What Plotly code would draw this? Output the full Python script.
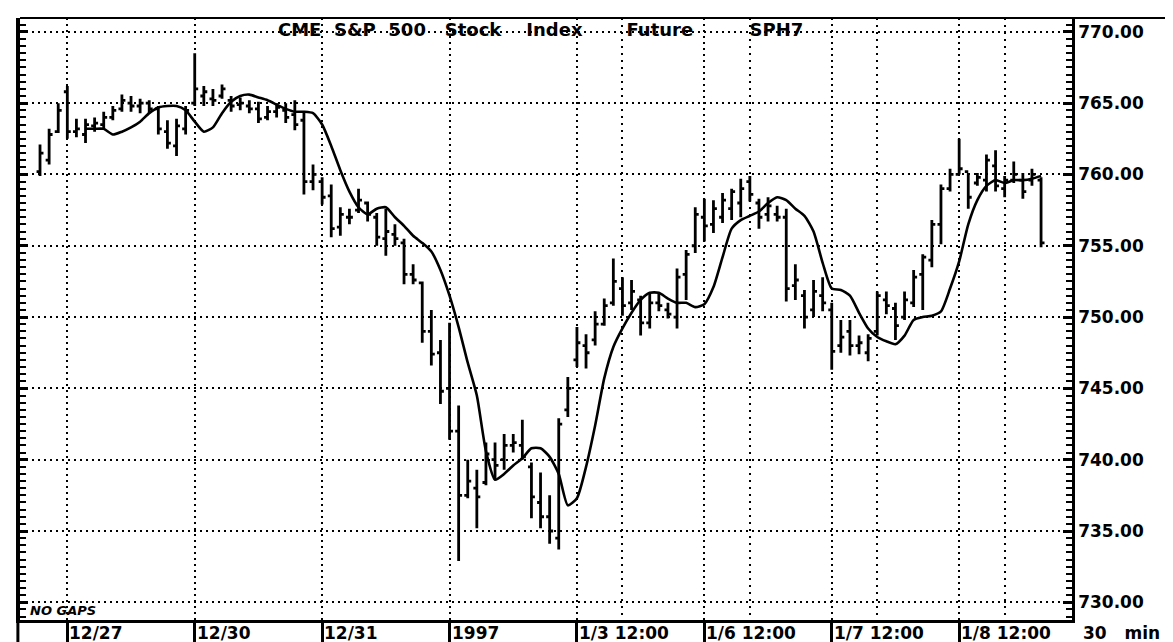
import plotly.graph_objects as go

# ---------------- data ----------------
bar_high = [762.1, 763.2, 765.0, 766.2, 763.9, 763.9, 764.0, 764.4, 764.8, 765.6,
            765.5, 765.3, 765.2, 764.8, 763.8, 763.9, 764.8, 768.5, 766.2, 766.0,
            766.3, 765.5, 765.4, 765.2, 765.1, 764.8, 765.0, 765.0, 765.2, 764.4,
            760.7, 759.8, 759.3, 757.7, 757.6, 759.0, 758.1, 757.3, 757.6, 756.5,
            755.5, 753.7, 752.5, 750.5, 748.4, 749.6, 743.8, 740.0, 739.3, 741.2,
            741.2, 741.8, 741.8, 742.8, 739.8, 739.1, 737.5, 742.9, 745.8, 749.3,
            748.8, 750.4, 751.3, 754.1, 752.8, 752.6, 751.5, 751.7, 751.7, 751.0,
            753.4, 754.7, 757.7, 758.3, 758.2, 758.7, 759.0, 759.7, 759.9, 758.3,
            758.4, 757.8, 757.6, 753.7, 751.9, 752.6, 752.8, 751.0, 749.8, 749.8,
            748.7, 748.8, 751.8, 751.8, 751.0, 751.8, 753.3, 754.4, 756.8, 759.3,
            760.4, 762.5, 760.1, 760.1, 761.4, 761.7, 759.9, 760.9, 760.1, 760.4,
            759.8]
bar_low = [759.9, 760.7, 762.9, 762.5, 762.6, 762.2, 763.0, 763.2, 763.8, 764.4,
           764.4, 764.3, 764.3, 762.8, 761.8, 761.3, 762.8, 764.8, 764.8, 764.8,
           765.3, 764.4, 764.5, 764.3, 763.6, 763.8, 764.0, 763.6, 763.1, 758.6,
           758.9, 757.9, 755.6, 755.7, 756.5, 757.3, 756.7, 755.0, 754.3, 755.0,
           752.3, 752.3, 748.2, 746.6, 743.9, 741.4, 732.9, 737.3, 735.2, 738.2,
           738.6, 739.3, 740.5, 740.0, 735.9, 735.2, 734.1, 733.7, 743.0, 746.5,
           746.4, 748.0, 749.4, 750.8, 750.1, 750.5, 748.7, 749.2, 750.4, 749.9,
           749.2, 751.2, 754.5, 755.3, 755.9, 756.6, 756.8, 757.0, 758.1, 756.2,
           756.7, 756.7, 751.1, 751.2, 749.2, 750.0, 750.4, 746.3, 747.5, 747.3,
           747.4, 746.9, 748.7, 750.2, 748.4, 749.8, 750.7, 750.5, 753.5, 755.1,
           758.8, 760.0, 757.6, 759.2, 758.8, 758.8, 758.4, 759.4, 758.3, 759.2,
           754.9]
bar_open = [760.2, 761.0, 763.0, 765.8, 763.0, 762.8, 763.4, 763.5, 764.0, 764.6,
            765.0, 764.8, 765.0, 764.6, 763.0, 762.0, 763.2, 765.0, 765.5, 765.3,
            765.5, 765.2, 764.9, 764.8, 764.6, 764.0, 764.4, 764.5, 764.2, 763.8,
            759.5, 759.5, 758.5, 756.3, 757.0, 757.5, 758.0, 757.0, 755.5, 755.8,
            755.2, 753.0, 752.4, 749.0, 747.5, 745.0, 742.0, 737.5, 738.0, 738.4,
            740.0, 740.0, 741.0, 741.0, 739.5, 737.0, 736.0, 734.5, 743.5, 747.0,
            748.0, 748.4, 749.5, 751.0, 752.0, 751.0, 751.2, 749.6, 751.0, 750.5,
            750.0, 753.0, 755.0, 757.0, 756.5, 757.0, 757.6, 758.0, 759.5, 758.0,
            757.2, 757.2, 757.0, 752.2, 751.5, 750.5, 751.5, 750.5, 748.0, 749.0,
            748.0, 747.5, 749.0, 751.2, 750.6, 750.0, 751.0, 753.0, 754.0, 756.5,
            759.0, 760.0, 760.2, 759.4, 759.6, 760.6, 759.0, 759.6, 759.6, 759.6,
            759.6]
bar_close = [761.5, 762.8, 764.5, 763.0, 763.2, 763.5, 763.6, 764.0, 764.5, 765.2,
             764.8, 765.0, 764.6, 763.2, 762.2, 763.4, 764.5, 766.0, 765.8, 765.2,
             766.0, 764.8, 765.0, 764.6, 763.9, 764.4, 764.7, 764.0, 763.5, 759.5,
             760.0, 758.4, 756.2, 757.2, 757.0, 758.2, 757.2, 755.6, 756.0, 755.5,
             753.0, 752.6, 749.0, 747.4, 744.8, 742.0, 737.5, 738.5, 737.4, 740.4,
             739.6, 741.0, 741.2, 740.2, 737.4, 736.0, 735.0, 742.5, 745.0, 748.2,
             747.5, 749.5, 750.8, 752.5, 750.8, 751.8, 749.6, 751.0, 750.8, 750.2,
             752.8, 754.4, 757.2, 756.4, 757.6, 758.2, 758.8, 759.0, 758.6, 757.0,
             757.8, 757.0, 752.0, 752.6, 750.0, 751.8, 751.0, 747.6, 748.6, 748.0,
             748.2, 748.5, 751.5, 750.8, 749.4, 751.2, 752.8, 754.2, 756.5, 759.0,
             760.0, 760.4, 758.4, 759.8, 761.0, 759.2, 759.6, 760.0, 758.8, 760.0,
             755.2]

# moving-average line (starts at bar 5)
ma_start = 5
ma_values = [763.2, 763.2, 763.2, 762.8, 763.0, 763.3, 763.7, 764.3, 764.7, 764.8,
             764.8, 764.5, 763.7, 763.0, 763.3, 764.3, 765.1, 765.5, 765.6, 765.4,
             765.2, 764.9, 764.6, 764.4, 764.4, 764.3, 763.5, 762.0, 760.3, 758.8,
             757.7, 757.2, 757.6, 757.7, 757.0, 756.4, 755.7, 755.2, 754.6, 753.3,
             751.5, 749.3, 746.8, 744.5, 740.6, 738.6, 739.0, 739.6, 740.1, 740.8,
             740.8, 740.2, 739.0, 736.8, 737.3, 739.5, 742.4, 745.7, 747.9, 749.2,
             750.3, 751.2, 751.7, 751.7, 751.3, 751.0, 751.0, 750.7, 750.9, 752.1,
             754.2, 756.2, 756.8, 757.1, 757.4, 758.0, 758.4, 758.2, 757.6, 757.1,
             756.0, 753.8, 752.0, 751.9, 751.5, 750.3, 749.2, 748.6, 748.3, 748.1,
             748.7, 749.8, 750.0, 750.1, 750.4, 752.0, 753.9, 756.5, 758.2, 759.2,
             759.6, 759.4, 759.6, 759.6, 759.7, 759.9]

# x-axis labels (at bar indices) and extra day grid lines
x_tick_pos = [3, 17, 31, 45, 59, 73, 87, 101]
x_tick_text = ["12/27", "12/30", "12/31", "1997", "1/3 12:00", "1/6 12:00", "1/7 12:00", "1/8 12:00"]
x_extra_grid = [64, 78, 92, 106]

y_first_tick = 730
y_tick_step = 5
y_minor_step = 0.5

NB = "\u00a0"
title_words = ["CME", "S&P", "500", "Stock", "Index", "Future", "SPH7"]
title_gaps = [2, 2, 3, 4, 7, 9]
interval_text = "30" + NB * 3 + "min"
corner_text = "NO GAPS"

# ---------------- figure ----------------
n = len(bar_high)
x_idx = list(range(n))
ma_x = list(range(ma_start, ma_start + len(ma_values)))

FONT = "DejaVu Sans"
DOT = "2px,4px"

fig = go.Figure()
fig.add_trace(go.Ohlc(
    x=x_idx, open=bar_open, high=bar_high, low=bar_low, close=bar_close,
    increasing=dict(line=dict(color="black", width=2.8)),
    decreasing=dict(line=dict(color="black", width=2.8)),
    tickwidth=0.38, showlegend=False, hoverinfo="skip",
))
fig.add_trace(go.Scatter(
    x=ma_x, y=ma_values, mode="lines",
    line=dict(color="black", width=2.6, shape="spline", smoothing=0.6),
    showlegend=False, hoverinfo="skip",
))
# invisible trace on left axis so its ruler is drawn
fig.add_trace(go.Scatter(x=[0], y=[750], yaxis="y2", mode="markers",
                         marker=dict(opacity=0), showlegend=False, hoverinfo="skip"))

x_range = [-2.2, 113.4]
y_range = [728.76, 770.97]

fig.update_layout(
    width=1173, height=642,
    margin=dict(l=12, r=109, t=10, b=20),
    paper_bgcolor="white", plot_bgcolor="white",
    showlegend=False,
    xaxis=dict(
        range=x_range, rangeslider=dict(visible=False),
        tickmode="array", tickvals=x_tick_pos, showticklabels=False,
        ticks="outside", ticklen=20, tickwidth=2.5, tickcolor="black",
        showgrid=True, gridcolor="black", gridwidth=1.5, griddash=DOT,
        minor=dict(tickmode="array", tickvals=x_extra_grid, showgrid=True,
                   gridcolor="black", gridwidth=1.5, griddash="2px,5px", ticks=""),
        showline=True, linecolor="black", linewidth=2.5,
        zeroline=False, fixedrange=True,
    ),
    yaxis=dict(
        range=y_range, side="right",
        tickmode="linear", tick0=y_first_tick, dtick=y_tick_step, tickformat=".2f",
        tickfont=dict(family=FONT, size=17, color="black", weight="bold"),
        ticks="inside", ticklen=9, tickwidth=2.5, tickcolor="black",
        minor=dict(tick0=y_first_tick, dtick=y_minor_step, ticks="inside", ticklen=6,
                   tickwidth=2, tickcolor="black", showgrid=False),
        showgrid=True, gridcolor="black", gridwidth=1.5, griddash=DOT,
        showline=True, linecolor="black", linewidth=2.5,
        zeroline=False, fixedrange=True, ticklabelstandoff=0,
    ),
    yaxis2=dict(
        range=y_range, overlaying="y", side="left",
        showticklabels=False, tickmode="linear", tick0=y_first_tick, dtick=y_tick_step,
        ticks="inside", ticklen=8, tickwidth=2.5, tickcolor="black",
        minor=dict(tick0=y_first_tick, dtick=y_minor_step, ticks="inside", ticklen=6,
                   tickwidth=2, tickcolor="black", showgrid=False),
        showgrid=False, showline=True, linecolor="black", linewidth=4,
        zeroline=False, fixedrange=True,
    ),
    hovermode=False,
)

title_text = title_words[0]
for gap, word in zip(title_gaps, title_words[1:]):
    title_text += NB * gap + word

label_font = dict(family=FONT, size=17, color="black", weight="bold")
annotations = []
for xv, txt in zip(x_tick_pos, x_tick_text):
    annotations.append(dict(x=xv, y=0, xref="x", yref="paper", text=txt.replace(" ", NB),
                            showarrow=False, xanchor="left", yanchor="top", xshift=0, yshift=-1,
                            font=label_font))
annotations.append(dict(x=(1073 - 12) / 1052, y=0, xref="paper", yref="paper", text=interval_text,
                        showarrow=False, xanchor="left", yanchor="top", yshift=-1, font=label_font))
annotations.append(dict(x=(268 - 12) / 1052, y=(622 - 22) / 612, xref="paper", yref="paper",
                        text=title_text, showarrow=False, xanchor="left", yanchor="middle",
                        font=dict(family=FONT, size=18, color="black", weight="bold")))
annotations.append(dict(x=(20 - 12) / 1052, y=0, xref="paper", yref="paper", text=corner_text,
                        showarrow=False, xanchor="left", yanchor="bottom", yshift=0,
                        font=dict(family=FONT, size=13, color="black", weight="bold", style="italic")))
fig.update_layout(annotations=annotations)

right_edge = (1170 - 12) / 1052
fig.update_layout(shapes=[
    dict(type="line", xref="paper", yref="paper", x0=0, x1=right_edge, y0=1, y1=1,
         line=dict(color="black", width=2)),
    dict(type="line", xref="paper", yref="paper", x0=right_edge, x1=right_edge, y0=1, y1=-0.04,
         line=dict(color="black", width=2)),
    dict(type="line", xref="paper", yref="paper", x0=-0.002, x1=-0.002, y0=0, y1=-0.04,
         line=dict(color="black", width=3)),
])

fig.write_html("out.html")
